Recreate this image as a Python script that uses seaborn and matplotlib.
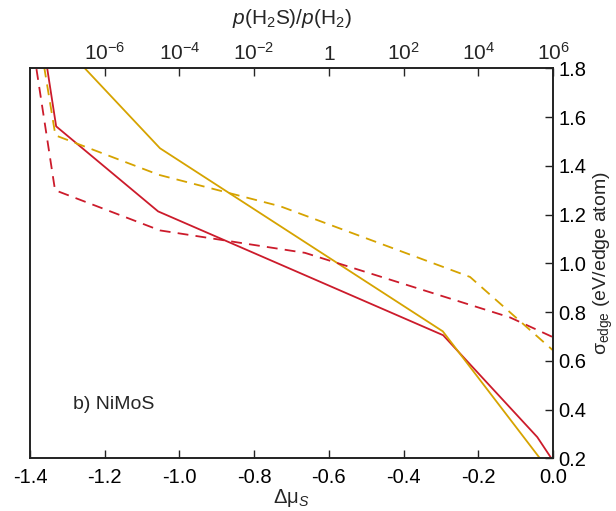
import numpy as np
import pandas as pd
import seaborn as sns
import matplotlib
matplotlib.use('Agg')
import matplotlib.pyplot as plt

# edge energies vs sulfur chemical potential
red_solid_x = [-1.36, -1.330, -1.057, -0.294, -0.042, 0.0]
red_solid_y = [1.86, 1.562, 1.213, 0.705, 0.287, 0.19]

gold_solid_x = [-1.29, -1.052, -0.295, 0.0]
gold_solid_y = [1.86, 1.472, 0.721, 0.13]

red_dash_x = [-1.39, -1.333, -1.052, -0.664, -0.115, 0.0]
red_dash_y = [1.87, 1.300, 1.135, 1.043, 0.778, 0.697]

gold_dash_x = [-1.37, -1.332, -1.055, -0.73, -0.222, 0.0]
gold_dash_y = [1.88, 1.525, 1.363, 1.234, 0.944, 0.643]

bottom_ticks = [-1.4, -1.2, -1.0, -0.8, -0.6, -0.4, -0.2, 0.0]
top_ticks = [-1.2, -1.0, -0.8, -0.6, -0.4, -0.2, 0.0]
top_labels = ['$10^{-6}$', '$10^{-4}$', '$10^{-2}$', '1', '$10^{2}$', '$10^{4}$', '$10^{6}$']
y_ticks = [0.2, 0.4, 0.6, 0.8, 1.0, 1.2, 1.4, 1.6, 1.8]

RED = '#cc1b2b'
GOLD = '#d6a300'

sns.set_style('ticks')
plt.rcParams['font.family'] = ['Liberation Sans', 'DejaVu Sans']
plt.rcParams['mathtext.fontset'] = 'custom'
plt.rcParams['mathtext.rm'] = 'Liberation Sans'
plt.rcParams['mathtext.it'] = 'Liberation Sans:italic'
plt.rcParams['mathtext.sf'] = 'Liberation Sans'

fig = plt.figure(figsize=(6.16, 5.11), dpi=100)
ax = fig.add_axes([0.0487, 0.1031, 0.849, 0.7632])

lw = 1.3
sns.lineplot(x=red_solid_x, y=red_solid_y, sort=False, color=RED, lw=lw, ax=ax, estimator=None)
sns.lineplot(x=gold_solid_x, y=gold_solid_y, sort=False, color=GOLD, lw=lw, ax=ax, estimator=None)
sns.lineplot(x=red_dash_x, y=red_dash_y, sort=False, color=RED, lw=lw, ax=ax,
             estimator=None, linestyle=(0, (6, 4)))
sns.lineplot(x=gold_dash_x, y=gold_dash_y, sort=False, color=GOLD, lw=lw, ax=ax,
             estimator=None, linestyle=(0, (6, 4)))

ax.set_xlim(-1.4, 0.0)
ax.set_ylim(0.2, 1.8)
ax.set_xticks(bottom_ticks)
ax.set_xticklabels(['%.1f' % t for t in bottom_ticks])
ax.set_yticks(y_ticks)
ax.set_yticklabels(['%.1f' % t for t in y_ticks])
ax.yaxis.tick_right()
ax.yaxis.set_label_position('right')
ax.tick_params(axis='both', direction='in', length=6, width=1, labelsize=14.5,
               colors='#222222', labelcolor='black')
ax.tick_params(axis='x', pad=7)
ax.tick_params(axis='y', left=False, right=True, pad=4)
ax.set_xlabel('Δμ$_S$', fontsize=14.5, labelpad=0)
ax.set_ylabel('σ$_{\\mathrm{edge}}$ (eV/edge atom)', fontsize=14, labelpad=4)

ax.text(-1.285, 0.42, 'b) NiMoS', fontsize=14, va='center', ha='left')

ax2 = ax.twiny()
ax2.set_xlim(ax.get_xlim())
ax2.set_xticks(top_ticks)
ax2.set_xticklabels(top_labels)
ax2.tick_params(axis='x', direction='in', length=6, width=1, labelsize=15, pad=3)
ax2.set_xlabel(r'$p$(H$_2$S)/$p$(H$_2$)', fontsize=15, labelpad=13)

for a in (ax, ax2):
    for s in a.spines.values():
        s.set_visible(True)
        s.set_color('#222222')
        s.set_linewidth(1.2)

fig.savefig('out.png', dpi=100)
